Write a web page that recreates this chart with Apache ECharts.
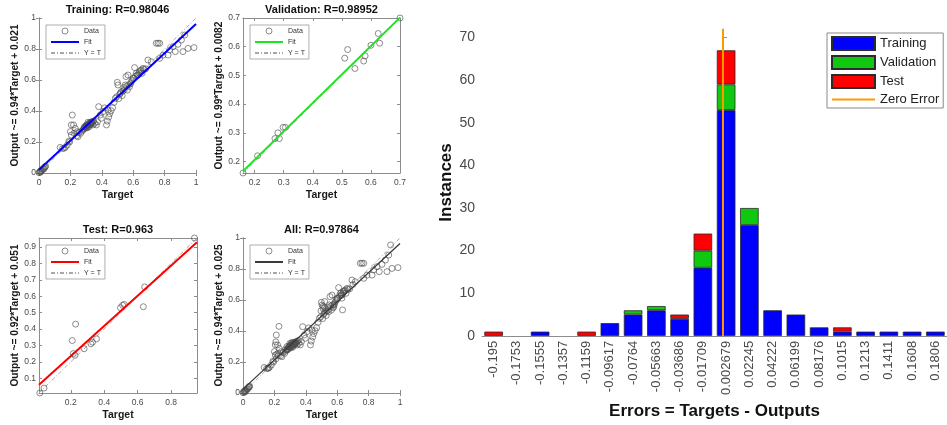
<!DOCTYPE html>
<html>
<head>
<meta charset="utf-8">
<script src="https://cdn.jsdelivr.net/npm/echarts@6/dist/echarts.min.js"></script>
<style>
  html, body { margin: 0; padding: 0; background: #fff; }
  #chart { width: 947px; height: 425px; }
</style>
</head>
<body>
<div id="chart"></div>
<script>
// ---------- regression data (targets vs. network outputs) ----------
const trainTarget = [
  0.000, 0.004, 0.008, 0.010, 0.014, 0.018, 0.022, 0.026, 0.030, 0.034, 0.038, 0.042,
  0.135, 0.150, 0.160, 0.168, 0.180, 0.190, 0.195, 0.200, 0.206, 0.206, 0.212, 0.220, 0.223, 0.231, 0.240, 0.244, 0.248, 0.255, 0.265, 0.272, 0.280,
  0.285, 0.288, 0.291, 0.294, 0.297, 0.300, 0.302, 0.304, 0.306, 0.308, 0.310, 0.312, 0.314, 0.316, 0.318, 0.320, 0.323, 0.325, 0.327, 0.329, 0.331, 0.333, 0.335, 0.338, 0.342, 0.344, 0.348, 0.355, 0.365, 0.372,
  0.380, 0.390, 0.397, 0.408, 0.418, 0.430, 0.435, 0.440, 0.444, 0.450, 0.459, 0.469, 0.478, 0.486, 0.495, 0.499, 0.503, 0.508, 0.514, 0.518,
  0.524, 0.530, 0.535, 0.541, 0.545, 0.550, 0.554, 0.558, 0.563, 0.567, 0.572, 0.577, 0.583, 0.588, 0.594, 0.599, 0.604, 0.609, 0.614, 0.620,
  0.625, 0.631, 0.636, 0.641, 0.646, 0.652, 0.656, 0.662, 0.668, 0.680, 0.694, 0.715,
  0.747, 0.758, 0.769, 0.769, 0.790, 0.822, 0.832, 0.854, 0.868, 0.885, 0.907, 0.917, 0.928, 0.949, 0.987
];
const trainOutput = [
  0.002, 0.008, 0.004, 0.014, 0.010, 0.018, 0.022, 0.028, 0.026, 0.034, 0.038, 0.044,
  0.165, 0.158, 0.160, 0.166, 0.180, 0.205, 0.200, 0.267, 0.245, 0.310, 0.374, 0.310, 0.256, 0.288, 0.240, 0.267, 0.234, 0.262, 0.256, 0.270, 0.277,
  0.284, 0.296, 0.288, 0.300, 0.299, 0.292, 0.310, 0.305, 0.300, 0.292, 0.310, 0.327, 0.306, 0.314, 0.297, 0.322, 0.318, 0.310, 0.326, 0.323, 0.315, 0.330, 0.327, 0.320, 0.331, 0.310, 0.335, 0.320, 0.310, 0.331,
  0.428, 0.374, 0.353, 0.396, 0.420, 0.310, 0.335, 0.406, 0.361, 0.383, 0.402, 0.421, 0.456, 0.482, 0.492, 0.585, 0.568, 0.480, 0.508, 0.515,
  0.525, 0.500, 0.529, 0.551, 0.540, 0.568, 0.622, 0.560, 0.535, 0.632, 0.570, 0.557, 0.575, 0.589, 0.600, 0.611, 0.612, 0.680, 0.625, 0.643,
  0.630, 0.632, 0.645, 0.654, 0.660, 0.665, 0.643, 0.675, 0.668, 0.672, 0.729, 0.718,
  0.837, 0.837, 0.837, 0.740, 0.760, 0.761, 0.794, 0.815, 0.783, 0.830, 0.858, 0.783, 0.890, 0.804, 0.809
];
const valTarget = [0.16, 0.21, 0.27, 0.28, 0.285, 0.298, 0.306, 0.51, 0.52, 0.545, 0.575, 0.58, 0.60, 0.625, 0.63, 0.70];
const valOutput = [0.16, 0.22, 0.28, 0.30, 0.28, 0.319, 0.319, 0.56, 0.59, 0.524, 0.55, 0.568, 0.605, 0.646, 0.612, 0.70];
const testTarget = [0.015, 0.04, 0.209, 0.229, 0.215, 0.225, 0.28, 0.32, 0.33, 0.354, 0.497, 0.51, 0.52, 0.634, 0.642, 0.94];
const testOutput = [0.01, 0.04, 0.33, 0.43, 0.25, 0.24, 0.28, 0.31, 0.32, 0.34, 0.53, 0.545, 0.55, 0.536, 0.657, 0.955];

// regression summaries
const panelNames = ['Training', 'Validation', 'Test', 'All'];
const panelTitles = ['Training: R=0.98046', 'Validation: R=0.98952', 'Test: R=0.963', 'All: R=0.97864'];
const fitSlopes = [0.94, 0.99, 0.92, 0.94];
const fitIntercepts = [0.021, 0.0082, 0.051, 0.025];
const fitLabels = ['Output ~= 0.94*Target + 0.021', 'Output ~= 0.99*Target + 0.0082', 'Output ~= 0.92*Target + 0.051', 'Output ~= 0.94*Target + 0.025'];
const axisRanges = [[0, 1], [0.16, 0.70], [0.01, 0.955], [0, 1]];
const ticksUnit = [0, 0.2, 0.4, 0.6, 0.8, 1];
const ticksVal = [0.2, 0.3, 0.4, 0.5, 0.6, 0.7];
const ticksTestX = [0.2, 0.4, 0.6, 0.8];
const ticksTestY = [0.1, 0.2, 0.3, 0.4, 0.5, 0.6, 0.7, 0.8, 0.9];

// ---------- error histogram ----------
const errorBins = ['-0.195', '-0.1753', '-0.1555', '-0.1357', '-0.1159', '-0.09617', '-0.0764', '-0.05663', '-0.03686', '-0.01709',
                   '0.002679', '0.02245', '0.04222', '0.06199', '0.08176', '0.1015', '0.1213', '0.1411', '0.1608', '0.1806'];
const trainCounts = [0, 0, 1, 0, 0, 3, 5, 6, 4, 16, 53, 26, 6, 5, 2, 1, 1, 1, 1, 1];
const valCounts   = [0, 0, 0, 0, 0, 0, 1, 1, 0, 4, 6, 4, 0, 0, 0, 0, 0, 0, 0, 0];
const testCounts  = [1, 0, 0, 0, 1, 0, 0, 0, 1, 4, 8, 0, 0, 0, 0, 1, 0, 0, 0, 0];
const zeroError = 0;
const histMax = 72;

// ---------- presentation ----------
const FONT = '"Liberation Sans", Arial, Helvetica, sans-serif';
const AXIS_COLOR = '#8c8c8c';
const LABEL_COLOR = '#4a4a4a';
const CIRCLE_COLOR = '#4d4d4d';
const fitColors = ['#0000ff', '#19e619', '#ff0000', '#3a3a3a'];
const identityColor = '#a8a8a8';
const panelLayouts = [
  { left: 39, top: 18, width: 157, height: 155 },
  { left: 243, top: 18, width: 157, height: 155 },
  { left: 39, top: 238, width: 158, height: 155 },
  { left: 243, top: 238, width: 157, height: 155 }
];
// the histogram runs past the right edge of the canvas
const histLayout = { left: 482, top: 29, width: 471, height: 309 };

const panelTargets = [trainTarget, valTarget, testTarget, trainTarget.concat(valTarget, testTarget)];
const panelOutputs = [trainOutput, valOutput, testOutput, trainOutput.concat(valOutput, testOutput)];
const panelXTicks = [ticksUnit, ticksVal, ticksTestX, ticksUnit];
const panelYTicks = [ticksUnit, ticksVal, ticksTestY, ticksUnit];

const grid = [], xAxis = [], yAxis = [], series = [], legend = [], graphic = [];
const hiddenSymbol = (c) => ({ color: c, opacity: 0 });

panelNames.forEach((name, i) => {
  const g = panelLayouts[i];
  grid.push({ left: g.left, top: g.top, width: g.width, height: g.height });
  const lo = axisRanges[i][0], hi = axisRanges[i][1];
  const line = { show: true, lineStyle: { color: AXIS_COLOR, width: 1 } };
  const tick = (vals) => ({ show: true, inside: true, length: 3, customValues: vals, lineStyle: { color: AXIS_COLOR } });
  const label = (vals, m) => ({ show: true, customValues: vals, fontSize: 8.5, color: LABEL_COLOR, fontFamily: FONT, margin: m });
  const nameStyle = { fontFamily: FONT, fontSize: 10.5, fontWeight: 'bold', color: '#1a1a1a' };

  xAxis.push({ gridIndex: i, type: 'value', position: 'bottom', min: lo, max: hi, splitLine: { show: false },
    axisLine: line, axisTick: tick(panelXTicks[i]), axisLabel: label(panelXTicks[i], 5),
    name: 'Target', nameLocation: 'middle', nameGap: 17, nameTextStyle: nameStyle });
  xAxis.push({ gridIndex: i, type: 'value', position: 'top', min: lo, max: hi, splitLine: { show: false },
    axisLine: line, axisTick: tick(panelXTicks[i]), axisLabel: { show: false } });
  yAxis.push({ gridIndex: i, type: 'value', position: 'left', min: lo, max: hi, splitLine: { show: false },
    axisLine: line, axisTick: tick(panelYTicks[i]), axisLabel: label(panelYTicks[i], 3),
    name: fitLabels[i], nameLocation: 'middle', nameGap: 13, nameTextStyle: { ...nameStyle, fontSize: 10.2 } });
  yAxis.push({ gridIndex: i, type: 'value', position: 'right', min: lo, max: hi, splitLine: { show: false },
    axisLine: line, axisTick: tick(panelYTicks[i]), axisLabel: { show: false } });

  const s = fitSlopes[i], b = fitIntercepts[i];
  const pts = panelTargets[i].map((t, k) => [t, panelOutputs[i][k]]);
  series.push({
    name: name + '|Y = T', type: 'line', xAxisIndex: 2 * i, yAxisIndex: 2 * i,
    data: [[lo, lo], [hi, hi]], symbol: 'none', silent: true, z: 2,
    itemStyle: hiddenSymbol(identityColor),
    lineStyle: { color: identityColor, width: 1, type: [4, 2, 1, 2] }
  });
  series.push({
    name: name + '|Data', type: 'scatter', xAxisIndex: 2 * i, yAxisIndex: 2 * i,
    data: pts, symbol: 'circle', symbolSize: 6, z: 3,
    itemStyle: { color: 'rgba(0,0,0,0)', borderColor: CIRCLE_COLOR, borderWidth: 0.8 }
  });
  series.push({
    name: name + '|Fit', type: 'line', xAxisIndex: 2 * i, yAxisIndex: 2 * i,
    data: [[lo, s * lo + b], [hi, s * hi + b]], symbol: 'none', silent: true, z: 4,
    itemStyle: hiddenSymbol(fitColors[i]),
    lineStyle: { color: fitColors[i], width: i === 3 ? 1.3 : 2 }
  });

  legend.push({
    data: [
      { name: name + '|Data', itemStyle: { color: 'rgba(0,0,0,0)', borderColor: CIRCLE_COLOR, borderWidth: 0.8 } },
      { name: name + '|Fit' },
      { name: name + '|Y = T' }
    ],
    formatter: (n) => n.split('|')[1],
    orient: 'vertical', left: g.left + 7, top: g.top + 7,
    itemWidth: 28, itemHeight: 6, itemGap: 3, padding: [2, 4, 2, 4],
    borderColor: '#9a9a9a', borderWidth: 0.8, borderRadius: 0, backgroundColor: '#fff',
    selectedMode: false,
    textStyle: { fontFamily: FONT, fontSize: 7, color: '#333', lineHeight: 8 }
  });

  graphic.push({
    type: 'text', x: g.left + g.width / 2, y: g.top - 8, silent: true,
    style: { text: panelTitles[i], font: 'bold 11px ' + FONT, fill: '#111',
             textAlign: 'center', textVerticalAlign: 'middle', align: 'center', verticalAlign: 'middle' }
  });
});

// histogram grid (index 4), category axis 8, hidden value axis 9, y axis 8
grid.push(histLayout);
const binStep = (parseFloat(errorBins[errorBins.length - 1]) - parseFloat(errorBins[0])) / (errorBins.length - 1);
xAxis.push({
  gridIndex: 4, type: 'category', data: errorBins, position: 'bottom',
  axisLine: { show: true, lineStyle: { color: AXIS_COLOR, width: 1 } },
  axisTick: { show: false },
  axisLabel: { interval: 0, rotate: 90, fontSize: 13, color: LABEL_COLOR, fontFamily: FONT, margin: 5 },
  name: 'Errors = Targets - Outputs', nameLocation: 'middle', nameGap: 63,
  nameTextStyle: { fontFamily: FONT, fontSize: 17, fontWeight: 'bold', color: '#111' }
});
xAxis.push({
  gridIndex: 4, type: 'value', show: false,
  min: parseFloat(errorBins[0]) - binStep / 2,
  max: parseFloat(errorBins[errorBins.length - 1]) + binStep / 2
});
yAxis.push({
  gridIndex: 4, type: 'value', min: 0, max: histMax, interval: 10, splitLine: { show: false },
  axisLine: { show: true, lineStyle: { color: AXIS_COLOR, width: 1 } },
  axisTick: { show: true, inside: true, length: 4, lineStyle: { color: AXIS_COLOR } },
  axisLabel: { fontSize: 14, color: LABEL_COLOR, fontFamily: FONT, margin: 7 },
  name: 'Instances', nameLocation: 'middle', nameGap: 27,
  nameTextStyle: { fontFamily: FONT, fontSize: 17, fontWeight: 'bold', color: '#111' }
});

const nz = (arr) => arr.map(v => (v === 0 ? null : v));
const barStyle = (c) => ({ color: c, borderColor: '#2b2b2b', borderWidth: 0.8 });
[['Training', trainCounts, '#0000ff'], ['Validation', valCounts, '#10c810'], ['Test', testCounts, '#ff0000']].forEach(([n, d, c]) => {
  series.push({
    name: n, type: 'bar', stack: 'errors', xAxisIndex: 8, yAxisIndex: 8,
    data: nz(d), barWidth: '80%', itemStyle: barStyle(c)
  });
});
series.push({
  name: 'Zero Error', type: 'line', xAxisIndex: 9, yAxisIndex: 8,
  data: [[zeroError, 0], [zeroError, histMax]], symbol: 'none', z: 5,
  itemStyle: hiddenSymbol('#ff9a00'),
  lineStyle: { color: '#ff9a00', width: 2 }
});
legend.push({
  data: [{ name: 'Training', icon: 'rect' }, { name: 'Validation', icon: 'rect' }, { name: 'Test', icon: 'rect' }, { name: 'Zero Error' }],
  orient: 'vertical', left: 827, top: 33,
  itemWidth: 43, itemHeight: 13, itemGap: 4, padding: [3, 4, 2, 4],
  borderColor: '#8a8a8a', borderWidth: 1, borderRadius: 0, backgroundColor: '#fff',
  selectedMode: false,
  textStyle: { fontFamily: FONT, fontSize: 13, color: '#222', lineHeight: 13 }
});

const chart = echarts.init(document.getElementById('chart'), null, { renderer: 'canvas' });
chart.setOption({
  animation: false,
  backgroundColor: '#fff',
  textStyle: { fontFamily: FONT },
  grid, xAxis, yAxis, series, legend, graphic
});
</script>
</body>
</html>
